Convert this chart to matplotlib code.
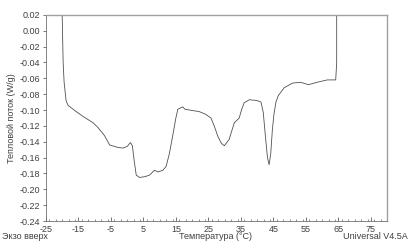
import matplotlib

matplotlib.use("Agg")
import matplotlib.pyplot as plt
from matplotlib.ticker import MultipleLocator

# DSC curve (temperature in C, heat flow in W/g)
temp = [-20.0, -20.0, -19.7, -19.4, -18.8, -18.2, -16.0, -13.6, -10.5, -9.0,
        -7.0, -5.4, -3.0, -1.3, 0.0, 1.0, 1.6, 2.2, 2.8, 3.8, 5.5, 6.9, 8.4,
        9.5, 11.0, 12.0, 13.0, 14.0, 15.0, 15.6, 17.1, 17.8, 19.2, 22.2, 24.0,
        25.8, 26.8, 27.9, 29.0, 29.9, 31.4, 32.3, 33.0, 34.5, 35.2, 36.0,
        37.6, 40.0, 41.2, 41.9, 42.6, 43.2, 43.7, 44.2, 44.7, 45.2, 45.8,
        46.5, 48.3, 50.9, 53.4, 55.8, 58.5, 61.6, 64.2, 64.5, 64.5]
flow = [0.05, 0.02, -0.040, -0.065, -0.088, -0.094, -0.101, -0.108, -0.116,
        -0.122, -0.132, -0.144, -0.147, -0.148, -0.146, -0.141, -0.145,
        -0.165, -0.182, -0.185, -0.184, -0.182, -0.176, -0.178, -0.176,
        -0.171, -0.155, -0.133, -0.110, -0.099, -0.096, -0.099, -0.100,
        -0.102, -0.105, -0.110, -0.120, -0.133, -0.142, -0.145, -0.137,
        -0.125, -0.116, -0.110, -0.100, -0.091, -0.087, -0.088, -0.090,
        -0.103, -0.135, -0.160, -0.169, -0.155, -0.125, -0.105, -0.090,
        -0.082, -0.072, -0.066, -0.065, -0.068, -0.065, -0.062, -0.062,
        -0.040, 0.05]

x_ticks = [-25, -15, -5, 5, 15, 25, 35, 45, 55, 65, 75]
y_ticks = [0.02, 0.00, -0.02, -0.04, -0.06, -0.08, -0.10, -0.12, -0.14,
           -0.16, -0.18, -0.20, -0.22, -0.24]

plt.rcParams["font.family"] = ["Liberation Sans", "DejaVu Sans"]
plt.rcParams["axes.unicode_minus"] = False

fig = plt.figure(figsize=(4.1, 2.44), dpi=100)
ax = fig.add_axes([0.112, 0.094, 0.832, 0.845])

ax.plot(temp, flow, color="#505050", lw=0.6)
ax.set_xlim(-25, 80)
ax.set_ylim(-0.24, 0.02)

ax.set_xticks(x_ticks)
ax.set_yticks(y_ticks)
ax.set_yticklabels([f"{v:.2f}" if v != 0 else "0.00" for v in y_ticks])
ax.xaxis.set_minor_locator(MultipleLocator(2))

ax.tick_params(axis="x", which="major", direction="in", length=3, width=0.6,
               labelsize=6.5, pad=2.5, color="#606060", labelcolor="#404040")
ax.tick_params(axis="x", which="minor", direction="in", length=1.8, width=0.5,
               color="#606060")
ax.tick_params(axis="y", which="major", direction="out", length=2.5, width=0.6,
               labelsize=6.5, pad=1.5, color="#606060", labelcolor="#404040")

for side in ["left", "bottom"]:
    ax.spines[side].set_color("#707070")
    ax.spines[side].set_linewidth(0.6)
for side in ["top", "right"]:
    ax.spines[side].set_color("#a0a0a0")
    ax.spines[side].set_linewidth(1.0)

ax.set_ylabel("Тепловой поток (W/g)", fontsize=6.5, color="#404040", labelpad=3)
fig.text(0.525, 0.012, "Температура (°C)", fontsize=6.5, color="#404040",
         ha="center", va="bottom")
fig.text(0.005, 0.012, "Экзо вверх", fontsize=6.5, color="#404040",
         ha="left", va="bottom")
fig.text(0.995, 0.012, "Universal V4.5A", fontsize=6.5, color="#404040",
         ha="right", va="bottom")

fig.savefig("out.png", dpi=100)
